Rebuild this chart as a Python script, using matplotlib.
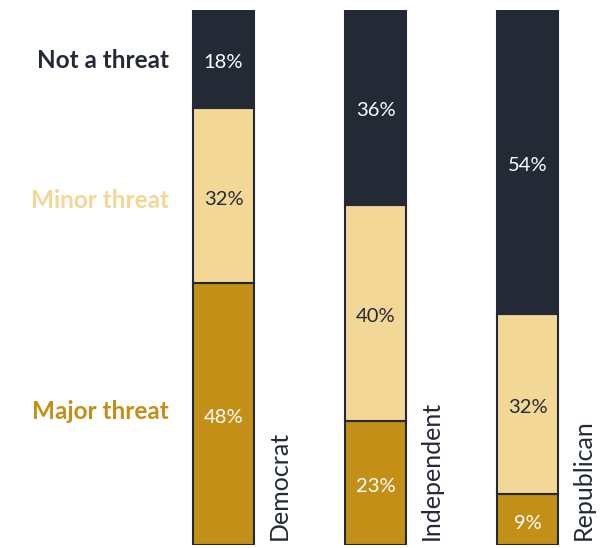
import matplotlib.pyplot as plt

# Stacked shares by party (percent, as printed)
parties = ["Democrat", "Independent", "Republican"]
major = [48, 23, 9]
minor = [32, 40, 32]
not_threat = [18, 36, 54]

levels = ["Major threat", "Minor threat", "Not a threat"]
colors = ["#c38f17", "#f3d797", "#232a36"]
text_colors = ["white", "#232a36", "white"]

plt.rcParams['font.family'] = ['Lato', 'DejaVu Sans']

fig = plt.figure(figsize=(6.05, 5.48), dpi=100)
ax = fig.add_axes([0.2438, 0.0055, 0.7537, 0.9763])

series = [major, minor, not_threat]
for i, party in enumerate(parties):
    total = sum(s[i] for s in series)
    bottom = 0
    for s, col, tcol in zip(series, colors, text_colors):
        h = s[i] / total * 100
        ax.bar(i, h, bottom=bottom, width=0.4, color=col,
               edgecolor="#232a36", linewidth=1.5)
        ax.text(i, bottom + h / 2 - 0.7, f"{s[i]}%", ha="center", va="center",
                fontsize=14.5, color=tcol)
        bottom += h
    ax.text(i + 0.37, 1, party, rotation=90, ha="center", va="bottom",
            fontsize=18, color="#232a36")

# Left-side legend labels
label_y = [24.9, 64.3, 90.5]
for name, col, y in zip(levels, colors, label_y):
    ax.text(-0.36, y, name, ha="right", va="center", fontsize=17.5,
            fontweight="bold", color=col)

ax.set_xlim(-0.5, 2.5)
ax.set_ylim(0, 100)
ax.axis("off")

fig.savefig("out.png", dpi=100)
